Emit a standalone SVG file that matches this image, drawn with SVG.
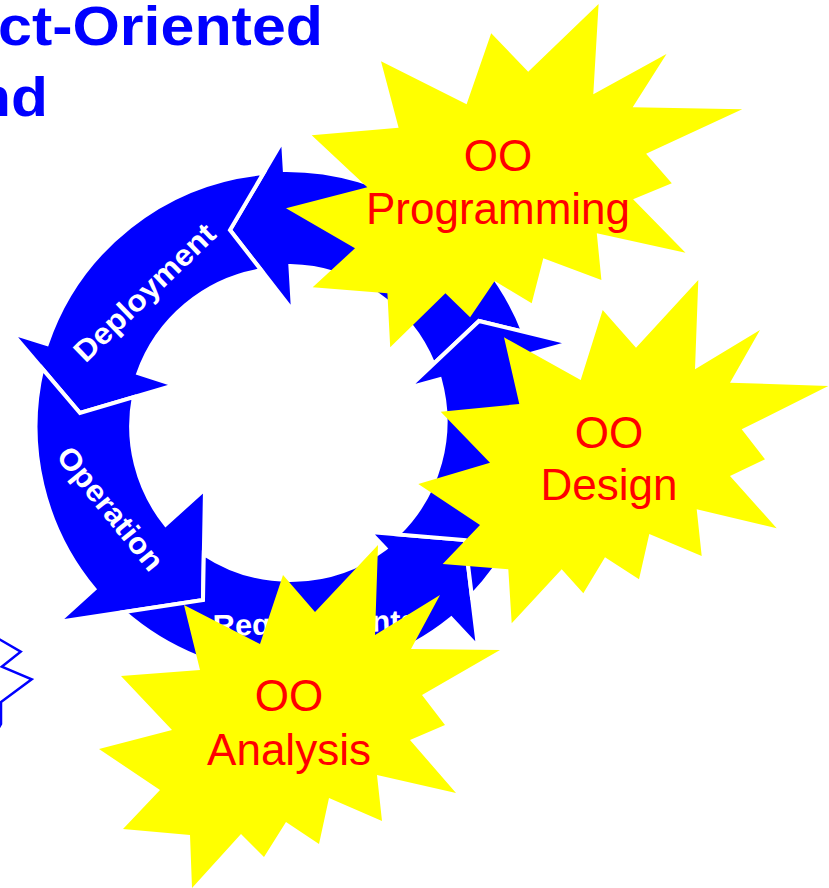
<svg xmlns="http://www.w3.org/2000/svg" width="829" height="888" viewBox="0 0 829 888">
<style>
.arrow{fill:#0000FF;stroke:#FFFFFF;stroke-width:4;stroke-linejoin:miter}
.ringlbl{font-family:"Liberation Sans",Arial,sans-serif;font-weight:bold;font-size:30px;fill:#FFFFFF}
.star{fill:#FFFF00;stroke:none}
.startxt{font-family:"Liberation Sans",Arial,sans-serif;font-size:44px;fill:#FF0000;text-anchor:middle}
.title{font-family:"Liberation Sans",Arial,sans-serif;font-weight:bold;font-size:56px;fill:#0000FF}
</style>
<rect width="829" height="888" fill="#FFFFFF"/>

<g id="title">
  <text class="title" x="-2" y="45" textLength="325" lengthAdjust="spacingAndGlyphs">ct-Oriented</text>
  <text class="title" x="-26" y="116" textLength="74" lengthAdjust="spacingAndGlyphs">nd</text>
</g>

<g id="edge-outline">
  <path d="M -30 622 L 20.7 651.7 L 1.7 666.7 L 31.7 679.3 L 1 702 L 1 724 L -20 760" fill="#FFFFFF" stroke="#0000FF" stroke-width="2.5"/>
</g>

<g id="cycle">
  <path id="arrow-implementation" class="arrow" d="M 523.3 331.7 A 254 254 0 0 0 284.8 170 L 283 140 L 230 230 L 293 311 L 290.4 266 A 158 158 0 0 1 433.5 364 L 479 321 Z"/>
  <path id="arrow-deployment" class="arrow" d="M 263.5 173.1 A 254 254 0 0 0 46.9 344.1 L 12 333 L 80 413 L 175 385 L 138.3 373.3 A 158 158 0 0 1 261.3 270.3 L 230 230 Z"/>
  <path id="arrow-operation" class="arrow" d="M 42.3 368.6 A 254 254 0 0 0 94.3 589.1 L 58 622 L 203 600 L 205 489 L 165.6 524.6 A 158 158 0 0 1 133.8 397.2 L 80 413 Z"/>
  <path id="arrow-requirements" class="arrow" d="M 124.1 612 A 254 254 0 0 0 451.2 618.5 L 478 647 L 465 540 L 370 532 L 385.3 548.3 A 158 158 0 0 1 203.8 554 L 203 600 Z"/>
  <path id="arrow-design" class="arrow" d="M 471.8 595.7 A 254 254 0 0 0 532.4 353.4 L 570 343 L 479 321 L 408 388 L 439.8 379.2 A 158 158 0 0 1 398 534.4 L 465 540 Z"/>
  <text class="ringlbl" text-anchor="middle" transform="translate(144,292) rotate(-44)" y="11" textLength="184" lengthAdjust="spacingAndGlyphs">Deployment</text>
  <text class="ringlbl" text-anchor="middle" transform="translate(111,508) rotate(51)" y="11" textLength="150" lengthAdjust="spacingAndGlyphs">Operation</text>
  <text class="ringlbl" transform="rotate(-1.5,213,636)" x="213" y="636" textLength="205" lengthAdjust="spacingAndGlyphs">Requirements</text>
</g>

<g id="star-programming">
  <polygon class="star" points="598.6,4 593.3,94.3 666.5,54 632.7,107.3 742.2,109.3 646.1,153.7 671.8,183.3 633.1,199.3 685.5,252.7 596.8,233.3 601.4,280 543.3,258.3 531.7,303.3 494.7,281 470.1,317.3 445.4,293.3 390.2,347.3 387.4,293.3 312.7,287.3 355,248.3 286,208.3 367.3,187.3 311.7,135.3 398.6,127.7 381,61.3 466.6,104.3 491.2,33.3 528.2,71.7"/>
  <text class="startxt" x="498" y="171">OO</text>
  <text class="startxt" x="498" y="224">Programming</text>
</g>

<g id="star-design">
  <polygon class="star" points="698.3,280 695,369.3 760,330 730,382.7 828.3,386 741.7,429.3 765,459.3 730,476 776.7,528.3 696.7,509.3 701.7,556 649.3,534 639,579.3 605,557.3 583.3,593.3 561.7,569.3 511.7,623.3 508.3,569.3 442.7,564 480,525 418.3,484 490,462.7 440.7,411.7 519.3,404 504,337.3 580.7,380 602.7,310 636,347.7"/>
  <text class="startxt" x="609" y="448">OO</text>
  <text class="startxt" x="609" y="500">Design</text>
</g>

<g id="star-analysis">
  <polygon class="star" points="283,575 315,612 378,545 375,635 440,595 411,649 500,650 422,695 445,725 410,740 456,793 377,775 382,821 329,798 319,844 286,822 264,857 241,834 192,888 190,835 123,829 160,790 99,749 172,730 121,676 200,670 184,605 260,644"/>
  <text class="startxt" x="289" y="711">OO</text>
  <text class="startxt" x="289" y="765">Analysis</text>
</g>
</svg>
